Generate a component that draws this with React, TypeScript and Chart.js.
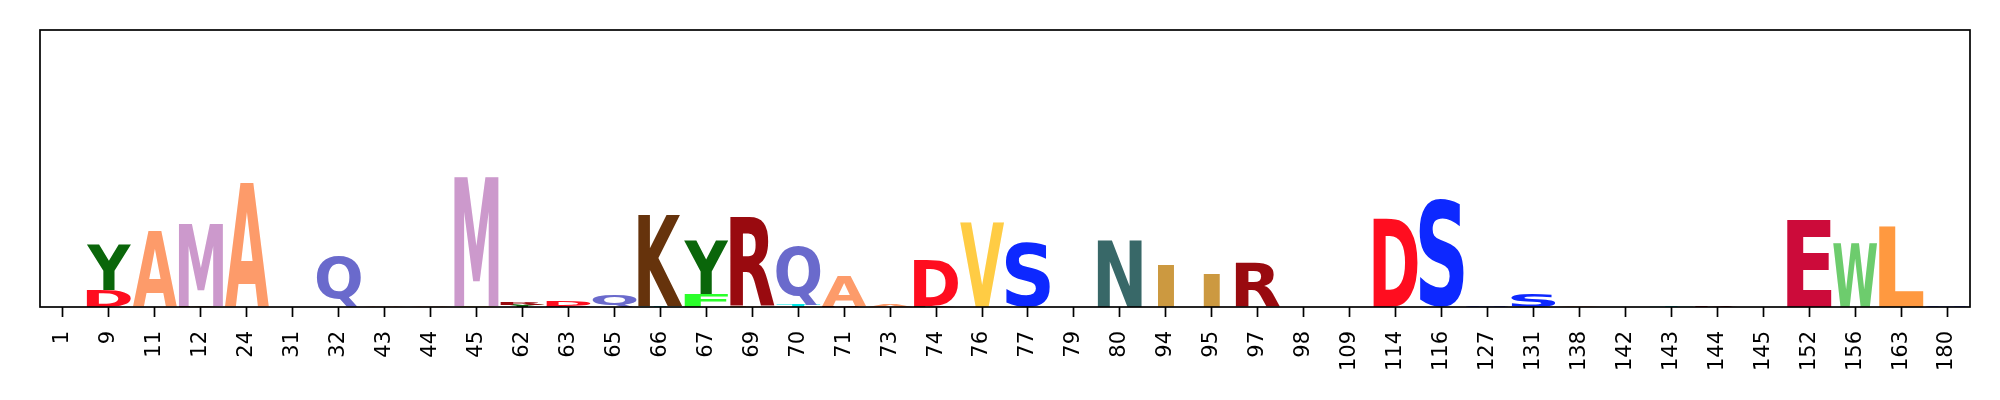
import React, { useEffect, useRef } from "react";
import { Chart, registerables } from "chart.js";

Chart.register(...registerables);

const positions = ['1','9','11','12','24','31','32','43','44','45','62','63','65','66','67','69','70','71','73','74','76','77','79','80','94','95','97','98','109','114','116','127','131','138','142','143','144','145','152','156','163','180'];

// bottom layer of each stack
const layer1Letters = ['','D','','K','','','','A','A','V','Y','E','','T','F','L','T','R','','K','','','','','','','','','','','','','','','','','','','','','',''];
const layer1Values = [0,0.265,0,0.012,0,0,0,0.015,0.012,0.01,0.03,0.02,0,0.015,0.2,0.015,0.03,0.015,0,0.02,0,0,0,0,0,0,0,0,0,0,0,0,0,0,0,0,0,0,0,0,0,0];

// main layer
const layer2Letters = ['','Y','A','M','A','','Q','','','M','R','D','Q','K','Y','R','Q','A','A','D','V','S','','N','I','I','R','','','D','S','S','S','A','','T','R','','E','W','L','S'];
const layer2Values = [0,0.717,1.185,1.279,1.918,0,0.78,0,0,2.02,0.045,0.07,0.2,1.42,0.84,1.39,0.92,0.455,0.03,0.71,1.31,1.01,0,1.03,0.64,0.51,0.68,0,0,1.39,1.68,0.02,0.2,0.025,0,0.025,0.015,0,1.36,1.0,1.26,0.015];

const letterColors: Record<string, string> = {
  A: '#fd9b6a', C: '#009999', D: '#ff0d1f', E: '#cc0b3a', F: '#2bff2b', G: '#f2f20c',
  H: '#660033', I: '#cc9940', K: '#66330c', L: '#ff9940', M: '#cc99cc', N: '#386868',
  P: '#0099ff', Q: '#6a6acc', R: '#990a0f', S: '#0d28ff', T: '#00e5e5', V: '#ffcc44',
  W: '#6dcc6d', Y: '#0a660a',
};

const Y_MAX = 4.32;
const GLYPH_FS = 200;

const logoPlugin = {
  id: 'logoLetters',
  afterDatasetsDraw(chart: any) {
    const ctx: CanvasRenderingContext2D = chart.ctx;
    ctx.save();
    ctx.font = `bold ${GLYPH_FS}px "DejaVu Sans"`;
    ctx.textAlign = 'left';
    ctx.textBaseline = 'alphabetic';
    const em = ctx.measureText('E');
    const eW = em.actualBoundingBoxLeft + em.actualBoundingBoxRight;
    chart.data.datasets.forEach((ds: any, di: number) => {
      const meta = chart.getDatasetMeta(di);
      meta.data.forEach((bar: any, i: number) => {
        const ch = ds.letters[i];
        if (!ch) return;
        const p = bar.getProps(['x', 'y', 'base', 'width'], true);
        const h = p.base - p.y;
        if (!(h > 0)) return;
        const m = ctx.measureText(ch);
        const inkW = m.actualBoundingBoxLeft + m.actualBoundingBoxRight;
        const inkH = m.actualBoundingBoxAscent + m.actualBoundingBoxDescent;
        const sx = Math.min(p.width / inkW, p.width / eW);
        const sy = h / inkH;
        const drawnW = inkW * sx;
        ctx.save();
        ctx.translate(p.x - drawnW / 2, p.y);
        ctx.scale(sx, sy);
        ctx.fillStyle = letterColors[ch] || '#000';
        ctx.fillText(ch, m.actualBoundingBoxLeft, m.actualBoundingBoxAscent);
        ctx.restore();
      });
    });
    ctx.restore();
  },
  afterDraw(chart: any) {
    const { ctx, chartArea } = chart;
    ctx.save();
    ctx.strokeStyle = '#000';
    ctx.lineWidth = 1.7;
    ctx.strokeRect(chartArea.left, chartArea.top, chartArea.right - chartArea.left, chartArea.bottom - chartArea.top);
    ctx.restore();
  },
};

export default function App() {
  const ref = useRef<HTMLCanvasElement>(null);
  useEffect(() => {
    if (!ref.current) return;
    const chart = new Chart(ref.current, {
      type: 'bar',
      data: {
        labels: positions,
        datasets: [
          { label: 'bottom', data: layer1Values, letters: layer1Letters, backgroundColor: 'rgba(0,0,0,0)', borderWidth: 0 } as any,
          { label: 'main', data: layer2Values, letters: layer2Letters, backgroundColor: 'rgba(0,0,0,0)', borderWidth: 0 } as any,
        ],
      },
      options: {
        responsive: false,
        devicePixelRatio: 1,
        animation: false,
        layout: { padding: { left: 40, right: 30, top: 30, bottom: 0 } },
        datasets: { bar: { barPercentage: 0.96, categoryPercentage: 1 } },
        plugins: { legend: { display: false }, tooltip: { enabled: false } },
        scales: {
          x: {
            stacked: true,
            offset: true,
            afterFit: (s: any) => { s.height = 93; },
            border: { display: false },
            grid: { display: true, drawOnChartArea: false, drawTicks: true, tickLength: 10, tickWidth: 1.7, tickColor: '#000', offset: false },
            ticks: { color: '#000', font: { family: 'DejaVu Sans', size: 21 }, minRotation: 90, maxRotation: 90, padding: 14, autoSkip: false },
          },
          y: { stacked: true, display: false, min: 0, max: Y_MAX },
        },
      },
      plugins: [logoPlugin],
    } as any);
    return () => chart.destroy();
  }, []);
  return (
    <div style={{ position: 'absolute', left: 0, top: 0, width: 2000, height: 400 }}>
      <canvas ref={ref} width={2000} height={400} />
    </div>
  );
}
